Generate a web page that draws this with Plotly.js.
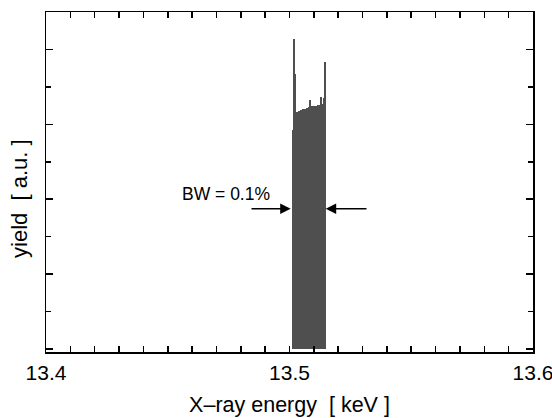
<!DOCTYPE html>
<html>
<head>
<meta charset="utf-8">
<script src="https://cdn.plot.ly/plotly-3.0.1.min.js"></script>
<style>html,body{margin:0;padding:0;background:#fff;}</style>
</head>
<body>
<div id="chart" style="width:552px;height:418px;"></div>
<script>
// X-ray energy bins [keV]
const energy = [13.50144, 13.50185, 13.50226, 13.50267, 13.50308, 13.50349, 13.50390, 13.50431,
  13.50472, 13.50513, 13.50554, 13.50595, 13.50637, 13.50678, 13.50719, 13.50760, 13.50801,
  13.50842, 13.50883, 13.50924, 13.50965, 13.51006, 13.51047, 13.51088, 13.51129, 13.51170,
  13.51211, 13.51253, 13.51294, 13.51335, 13.51376, 13.51417, 13.51458];
// yield [a.u.]
const yieldVals = [2.93, 4.14, 3.67, 3.16, 3.17, 3.17, 3.18, 3.18,
  3.19, 3.19, 3.20, 3.20, 3.21, 3.21, 3.22, 3.22, 3.23,
  3.33, 3.23, 3.24, 3.24, 3.24, 3.25, 3.25, 3.25, 3.26,
  3.26, 3.26, 3.36, 3.27, 3.27, 3.35, 3.83];
// x tick positions (every 0.01 keV) and labels
const xTickVals = [13.40, 13.41, 13.42, 13.43, 13.44, 13.45, 13.46, 13.47, 13.48, 13.49, 13.50,
  13.51, 13.52, 13.53, 13.54, 13.55, 13.56, 13.57, 13.58, 13.59, 13.60];
const xTickText = ['13.4', '', '', '', '', '', '', '', '', '', '13.5',
  '', '', '', '', '', '', '', '', '', '13.6'];
const xTitle = 'X\u2013ray energy  [ keV ]';
const yTitle = 'yield  [ a.u. ]';
const bwLabel = "BW = 0.1%";

const trace = {
  type: 'bar',
  x: energy,
  y: yieldVals,
  width: 0.00043,
  marker: {color: '#4f4f4f', line: {width: 0}},
  hoverinfo: 'skip'
};

const font = {family: '"Liberation Sans", Arial, sans-serif', color: '#000'};

const layout = {
  width: 552, height: 418,
  margin: {l: 46, r: 19, t: 12, b: 66},
  paper_bgcolor: '#fff', plot_bgcolor: '#fff',
  showlegend: false,
  bargap: 0,
  font: Object.assign({size: 18}, font),
  xaxis: {
    range: [13.39999, 13.60001],
    tickmode: 'array', tickvals: xTickVals, ticktext: xTickText,
    ticks: 'inside', ticklen: 6, tickwidth: 1.5, tickcolor: '#000',
    ticklabelstandoff: 1, ticklabeloverflow: 'allow',
    showline: true, linecolor: '#000', linewidth: 1.5, mirror: 'ticks',
    showgrid: false, zeroline: false,
    tickfont: Object.assign({size: 21}, font),
    title: {text: xTitle, font: Object.assign({size: 21.5}, font), standoff: 14}
  },
  yaxis: {
    range: [-0.04, 4.5],
    tick0: 0, dtick: 1,
    showticklabels: false,
    ticks: 'inside', ticklen: 7, tickwidth: 1.5, tickcolor: '#000',
    minor: {dtick: 0.5, ticks: 'inside', ticklen: 5, tickwidth: 1.5, tickcolor: '#000'},
    showline: true, linecolor: '#000', linewidth: 1.5, mirror: 'ticks',
    showgrid: false, zeroline: false
  },
  annotations: [
    {x: -0.0534, y: 0.453, xref: 'paper', yref: 'paper', text: yTitle, textangle: -90,
     showarrow: false, xanchor: 'center', yanchor: 'middle', font: Object.assign({size: 22}, font)},
    {x: 13.4741, y: 2.07, xref: 'x', yref: 'y', text: bwLabel, showarrow: false,
     font: Object.assign({size: 17.5}, font)},
    {x: 13.50049, y: 1.874, ax: 13.48378, ay: 1.874, xref: 'x', yref: 'y', axref: 'x', ayref: 'y',
     text: '', showarrow: true, arrowhead: 2, arrowsize: 1.4, arrowwidth: 1.5, arrowcolor: '#000'},
    {x: 13.51487, y: 1.874, ax: 13.53224, ay: 1.874, xref: 'x', yref: 'y', axref: 'x', ayref: 'y',
     text: '', showarrow: true, arrowhead: 2, arrowsize: 1.4, arrowwidth: 1.5, arrowcolor: '#000'}
  ]
};

Plotly.newPlot('chart', [trace], layout, {staticPlot: true, displayModeBar: false});
</script>
</body>
</html>
